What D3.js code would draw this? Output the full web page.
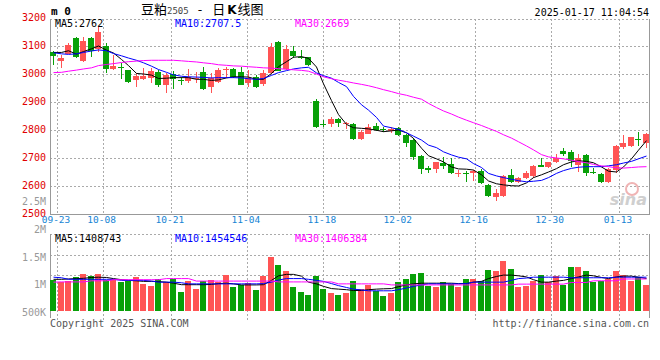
<!DOCTYPE html>
<html lang="zh-CN">
<head>
<meta charset="UTF-8">
<title>豆粕2505 - 日K线图</title>
<script src="https://d3js.org/d3.v7.min.js"></script>
<style>
  body { margin: 0; background: #fff; }
  svg { display: block; }
  text { font-family: "DejaVu Sans Mono", monospace; font-size: 10px; }
</style>
</head>
<body>
<div id="chart"></div>
<script>
// trading days shown on the chart
const dates = [
  "09-20","09-23","09-24","09-25","09-26","09-27","09-30","10-08","10-09","10-10",
  "10-11","10-14","10-15","10-16","10-17","10-18","10-21","10-22","10-23","10-24",
  "10-25","10-28","10-29","10-30","10-31","11-01","11-04","11-05","11-06","11-07",
  "11-08","11-11","11-12","11-13","11-14","11-15","11-18","11-19","11-20","11-21",
  "11-22","11-25","11-26","11-27","11-28","11-29","12-02","12-03","12-04","12-05",
  "12-06","12-09","12-10","12-11","12-12","12-13","12-16","12-17","12-18","12-19",
  "12-20","12-23","12-24","12-25","12-26","12-27","12-30","12-31","01-02","01-03",
  "01-06","01-07","01-08","01-09","01-10","01-13","01-14","01-15","01-16","01-17"
];
const dateTicks = ["09-23","10-08","10-21","11-04","11-18","12-02","12-16","12-30","01-13"];

const open = [
  3079,3048,3071,3128,3047,3128,3088,3100,3017,3024,
  3014,2979,2982,2987,3007,2959,3000,2980,2976,2981,
  3007,2952,2972,3016,3017,3008,2967,2990,2964,3002,
  3115,3017,3083,3062,3059,2905,2823,2821,2839,2820,
  2821,2767,2787,2814,2805,2798,2806,2781,2764,2707,
  2664,2662,2683,2679,2645,2648,2648,2655,2605,2562,
  2564,2638,2616,2630,2634,2675,2667,2687,2726,2721,
  2676,2711,2650,2643,2614,2657,2741,2743,2769,2752
];
const high = [
  3083,3069,3112,3133,3133,3133,3170,3109,3068,3040,
  3016,3005,3020,3020,3014,3002,3010,2990,3017,3008,
  3024,3002,3020,3026,3020,3024,3014,2996,3014,3109,
  3119,3103,3100,3086,3062,2912,2836,2845,2842,2830,
  2824,2800,2820,2824,2812,2812,2809,2786,2770,2711,
  2672,2686,2705,2700,2657,2652,2657,2660,2607,2588,
  2639,2660,2633,2652,2675,2699,2687,2714,2735,2728,
  2713,2714,2663,2645,2663,2747,2781,2776,2794,2788
];
const low = [
  3033,3021,3070,3057,3043,3062,3080,3005,3014,2983,
  2967,2955,2979,2969,2952,2931,2945,2961,2967,2967,
  2943,2931,2967,2984,2984,2961,2955,2951,2958,2999,
  3012,3014,3056,3052,3028,2808,2812,2812,2812,2802,
  2764,2764,2784,2795,2794,2788,2778,2738,2693,2643,
  2648,2648,2660,2643,2633,2615,2619,2607,2562,2548,
  2562,2610,2610,2626,2630,2667,2663,2683,2707,2667,
  2651,2637,2643,2612,2612,2645,2733,2740,2743,2735
];
const close = [
  3066,3057,3103,3062,3118,3083,3149,3018,3028,3021,
  2970,2993,2994,3012,2962,2997,2982,2978,2988,2984,
  2946,2985,3014,3019,2990,2961,2987,2955,3005,3097,
  3012,3090,3064,3059,3033,2812,2819,2840,2825,2824,
  2767,2793,2810,2800,2801,2805,2782,2755,2705,2660,
  2657,2684,2671,2648,2648,2643,2655,2610,2564,2576,
  2636,2614,2630,2648,2672,2669,2686,2699,2714,2688,
  2700,2645,2645,2614,2660,2743,2755,2774,2764,2786
];

// price moving averages as drawn
const ma5 = [
  3077,3077,3083,3071,3080,3090,3100,3085,3075,3052,
  3030,3002,3000,2996,2984,2985,2987,2987,2987,2981,
  2981,2977,2979,2986,2990,2990,2989,2981,2981,3002,
  3026,3044,3060,3062,3056,3025,2965,2905,2855,2820,
  2808,2806,2804,2799,2794,2797,2800,2790,2770,2735,
  2708,2697,2686,2668,2661,2660,2657,2640,2618,2608,
  2604,2601,2600,2611,2630,2640,2650,2662,2676,2686,
  2690,2688,2683,2668,2653,2650,2668,2697,2728,2762
];
const ma10 = [
  3076,3072,3070,3072,3077,3082,3086,3083,3073,3065,
  3057,3049,3040,3028,3016,3006,2997,2992,2990,2989,
  2988,2986,2987,2987,2987,2986,2983,2981,2984,2995,
  3005,3012,3018,3022,3024,3004,2994,2985,2970,2955,
  2920,2890,2871,2845,2814,2808,2802,2790,2778,2764,
  2746,2737,2722,2711,2703,2697,2680,2666,2645,2636,
  2630,2624,2619,2615,2617,2620,2630,2645,2655,2663,
  2667,2669,2669,2669,2672,2676,2682,2688,2697,2707
];
const ma30 = [
  3005,3006,3010,3014,3018,3022,3030,3034,3037,3041,
  3044,3046,3048,3049,3049,3049,3049,3047,3045,3043,
  3040,3037,3033,3031,3029,3028,3026,3024,3022,3021,
  3019,3017,3015,3013,3010,3000,2990,2983,2978,2973,
  2968,2963,2958,2951,2944,2937,2930,2924,2917,2910,
  2895,2880,2868,2857,2846,2835,2826,2816,2806,2795,
  2783,2771,2758,2743,2729,2712,2704,2700,2697,2692,
  2687,2683,2677,2672,2669,2665,2664,2666,2668,2669
];

const volume = [
  1090000,1050000,1070000,1150000,1200000,1160000,1200000,1090000,1110000,1060000,
  1070000,1150000,1020000,990000,1120000,1060000,1120000,870000,1070000,940000,
  1070000,1090000,1060000,1180000,960000,1010000,1040000,920000,1160000,1510000,
  1370000,1250000,960000,880000,820000,1160000,930000,860000,820000,860000,
  1070000,940000,1000000,900000,800000,860000,1050000,1120000,1200000,1220000,
  990000,970000,1060000,1030000,970000,1120000,1120000,1080000,1270000,1250000,
  1440000,1300000,970000,990000,1070000,1180000,1060000,1160000,1010000,1330000,
  1330000,1250000,1060000,1080000,1120000,1250000,1180000,1080000,1140000,1010000
];
const volMa5 = [
  1107000,1107000,1113000,1120000,1125000,1140000,1145000,1140000,1120000,1100000,
  1088000,1080000,1070000,1070000,1065000,1056000,1037000,1010000,1010000,1010000,
  1010000,1015000,1030000,1037000,1025000,1006000,1006000,1006000,1010000,1088000,
  1170000,1196000,1196000,1164000,1056000,1025000,980000,940000,930000,920000,
  905000,905000,920000,930000,936000,940000,974000,1006000,1025000,1037000,
  1037000,1037000,1037000,1037000,1030000,1030000,1056000,1070000,1120000,1158000,
  1183000,1183000,1170000,1150000,1100000,1056000,1056000,1075000,1088000,1120000,
  1150000,1183000,1170000,1140000,1120000,1150000,1164000,1164000,1145000,1120000
];
const volMa10 = [
  1145000,1135000,1107000,1107000,1107000,1107000,1107000,1107000,1107000,1088000,
  1088000,1088000,1088000,1075000,1056000,1056000,1056000,1045000,1025000,1025000,
  1025000,1025000,1025000,1025000,1025000,1025000,1025000,1025000,1030000,1056000,
  1094000,1120000,1120000,1120000,1107000,1088000,1070000,1030000,993000,960000,
  930000,915000,900000,900000,900000,900000,920000,950000,980000,1006000,
  1025000,1025000,1025000,1025000,1025000,1030000,1056000,1056000,1056000,1056000,
  1056000,1088000,1120000,1130000,1145000,1145000,1145000,1145000,1145000,1135000,
  1135000,1135000,1135000,1135000,1135000,1145000,1145000,1145000,1145000,1145000
];
const volMa30 = [
  1056000,1060000,1060000,1060000,1060000,1080000,1080000,1080000,1100000,1100000,
  1100000,1100000,1100000,1100000,1100000,1120000,1120000,1120000,1120000,1075000,
  1075000,1075000,1075000,1075000,1075000,1075000,1075000,1075000,1075000,1075000,
  1060000,1060000,1060000,1060000,1060000,1060000,1060000,1060000,1025000,1025000,
  1025000,1025000,1025000,1025000,1025000,1006000,1006000,1006000,1006000,1006000,
  1006000,1006000,1006000,1006000,1006000,1006000,1006000,1006000,1006000,1006000,
  1006000,1006000,1020000,1020000,1020000,1020000,1020000,1020000,1020000,1050000,
  1050000,1050000,1080000,1080000,1080000,1080000,1113000,1113000,1113000,1113000
];

const priceTicks = [2500, 2600, 2700, 2800, 2900, 3000, 3100, 3200];
const volTicks = [500000, 1000000, 1500000, 2000000, 2500000];
const volTickText = ["500K", "1M", "1.5M", "2M", "2.5M"];

const upColor = "#ff5454", downColor = "#08a008";
const gridColor = "#aaa", axisColor = "#999";

const width = 660, height = 360;
const svg = d3.select("#chart").append("svg")
  .attr("width", width).attr("height", height);

const pTop = 19, pBottom = 214, left = 50, right = 649;
const vTop = 234, vBase = 311, vBottom = 318;

const x = d3.scaleBand().domain(d3.range(dates.length))
  .range([50, 650]).paddingInner(0.2).paddingOuter(0.1);
const bx = i => Math.floor(x(i));
const cx = i => Math.floor(x(i)) + 3.5;
// date grid lines are spaced on their own scale in the original
const gridX = d3.scaleLinear().domain([1, 75]).range([57, 619]);
const yP = d3.scaleLinear().domain([2500, 3200]).range([214, 18]);
const yV = d3.scaleLinear().domain([500000, 2500000]).range([313, 202]);

const tickIdx = dateTicks.map(t => dates.indexOf(t));

// ---- grid ----
const grid = svg.append("g")
  .attr("stroke", gridColor).attr("stroke-dasharray", "2,2").attr("shape-rendering", "crispEdges");
priceTicks.filter(t => t > 2500 && t < 3200).forEach(t => {
  grid.append("line").attr("x1", left).attr("x2", right)
    .attr("y1", Math.round(yP(t)) + 0.5).attr("y2", Math.round(yP(t)) + 0.5);
});
grid.append("line").attr("x1", left).attr("x2", right).attr("y1", pTop + 0.5).attr("y2", pTop + 0.5);
grid.append("line").attr("x1", left).attr("x2", right).attr("y1", vTop + 0.5).attr("y2", vTop + 0.5);
[255, 275].forEach(gy => {
  grid.append("line").attr("x1", left).attr("x2", right).attr("y1", gy + 0.5).attr("y2", gy + 0.5);
});
tickIdx.forEach(i => {
  const gx = Math.round(gridX(i)) + 0.5;
  grid.append("line").attr("x1", gx).attr("x2", gx).attr("y1", pTop).attr("y2", pBottom);
  grid.append("line").attr("x1", gx).attr("x2", gx).attr("y1", vTop).attr("y2", vBottom + 2);
});

// ---- frame ----
const frame = svg.append("g").attr("stroke", axisColor).attr("shape-rendering", "crispEdges");
frame.append("line").attr("x1", left + 0.5).attr("x2", left + 0.5).attr("y1", pTop).attr("y2", pBottom + 1);
frame.append("line").attr("x1", right + 0.5).attr("x2", right + 0.5).attr("y1", pTop).attr("y2", pBottom + 1);
frame.append("line").attr("x1", left).attr("x2", right + 1).attr("y1", pBottom + 0.5).attr("y2", pBottom + 0.5);
frame.append("line").attr("x1", left + 0.5).attr("x2", left + 0.5).attr("y1", vTop).attr("y2", vBottom);
frame.append("line").attr("x1", right + 0.5).attr("x2", right + 0.5).attr("y1", vTop).attr("y2", vBottom);

// ---- watermark ----
svg.append("circle").attr("cx", 632).attr("cy", 189).attr("r", 6)
  .attr("fill", "none").attr("stroke", "#f0b4b4").attr("stroke-width", 2);
svg.append("text").attr("x", 647).attr("y", 205).attr("text-anchor", "end")
  .style("font-family", "DejaVu Sans").style("font-size", "16px")
  .style("font-style", "italic").style("font-weight", "bold")
  .attr("fill", "#cfcfcf").text("sina");

// ---- candles ----
const candles = svg.append("g").attr("shape-rendering", "crispEdges");
dates.forEach((d, i) => {
  const up = close[i] >= open[i];
  const col = up ? upColor : downColor;
  candles.append("line")
    .attr("x1", cx(i)).attr("x2", cx(i))
    .attr("y1", Math.round(yP(high[i]))).attr("y2", Math.round(yP(low[i])))
    .attr("stroke", col);
  const yTop = Math.round(yP(Math.max(open[i], close[i])));
  const yBot = Math.round(yP(Math.min(open[i], close[i])));
  candles.append("rect")
    .attr("x", bx(i)).attr("width", x.bandwidth())
    .attr("y", yTop).attr("height", Math.max(1, yBot - yTop))
    .attr("fill", col);
});

// ---- volume bars ----
const bars = svg.append("g").attr("shape-rendering", "crispEdges");
dates.forEach((d, i) => {
  const yt = Math.round(yV(volume[i]));
  bars.append("rect")
    .attr("x", bx(i)).attr("width", x.bandwidth())
    .attr("y", yt).attr("height", vBase - yt)
    .attr("fill", close[i] >= open[i] ? upColor : downColor);
});

// ---- moving average lines ----
const maColors = ["#000", "#0000ff", "#ff00ff"];
const pLine = d3.line().x((d, i) => cx(i)).y(d => yP(d));
const vLine = d3.line().x((d, i) => cx(i)).y(d => yV(d));
[ma5, ma10, ma30].forEach((s, k) => {
  svg.append("path").attr("d", pLine(s)).attr("fill", "none")
    .attr("stroke", maColors[k]).attr("stroke-width", 1);
});
[volMa5, volMa10, volMa30].forEach((s, k) => {
  svg.append("path").attr("d", vLine(s)).attr("fill", "none")
    .attr("stroke", maColors[k]).attr("stroke-width", 1);
});

// ---- axis labels ----
svg.append("g").selectAll("text").data(priceTicks).join("text")
  .attr("x", 46).attr("y", d => yP(d) + 2.5)
  .attr("text-anchor", "end").attr("fill", "#e00000")
  .text(d => d);

svg.append("g").selectAll("text").data(volTicks).join("text")
  .attr("x", 46).attr("y", d => yV(d) + 3)
  .attr("text-anchor", "end").attr("fill", "#999")
  .text((d, i) => volTickText[i]);

svg.append("g").selectAll("text").data(tickIdx).join("text")
  .attr("x", d => gridX(d) - 1).attr("y", 223)
  .attr("text-anchor", "middle").attr("fill", "#1684d4")
  .style("font-size", "9.5px")
  .text((d, i) => dateTicks[i]);

// ---- legends ----
const priceLegend = ["MA5:2762", "MA10:2707.5", "MA30:2669"];
const volLegend = ["MA5:1408743", "MA10:1454546", "MA30:1406384"];
const legendX = [55, 175, 295];
priceLegend.forEach((t, k) => {
  svg.append("text").attr("x", legendX[k]).attr("y", 27)
    .attr("fill", maColors[k]).text(t);
});
volLegend.forEach((t, k) => {
  svg.append("text").attr("x", legendX[k]).attr("y", 242)
    .attr("fill", maColors[k]).text(t);
});

// ---- header ----
svg.append("text").attr("x", 51).attr("y", 15)
  .style("font-size", "11px").style("font-weight", "bold").text("m 0");
const title = svg.append("text").attr("x", 141).attr("y", 14)
  .style("font-family", "'Noto Sans CJK SC', sans-serif").style("font-size", "13px");
title.append("tspan").text("豆粕");
title.append("tspan").style("font-family", "'DejaVu Sans Mono', monospace")
  .style("font-size", "9px").attr("fill", "#444").text("2505");
title.append("tspan").attr("dx", 9).text("-");
title.append("tspan").attr("dx", 10).text("日");
title.append("tspan").attr("dx", 2).style("font-family", "'DejaVu Sans', sans-serif")
  .style("font-weight", "bold").style("font-size", "12px").text("K");
title.append("tspan").attr("dx", 1).text("线图");

svg.append("text").attr("x", 649).attr("y", 16).attr("text-anchor", "end")
  .text("2025-01-17 11:04:54");

// ---- footer ----
svg.append("text").attr("x", 50).attr("y", 327).attr("fill", "#555")
  .text("Copyright 2025 SINA.COM");
svg.append("text").attr("x", 649).attr("y", 327).attr("text-anchor", "end")
  .attr("fill", "#555").text("http://finance.sina.com.cn");
</script>
</body>
</html>
